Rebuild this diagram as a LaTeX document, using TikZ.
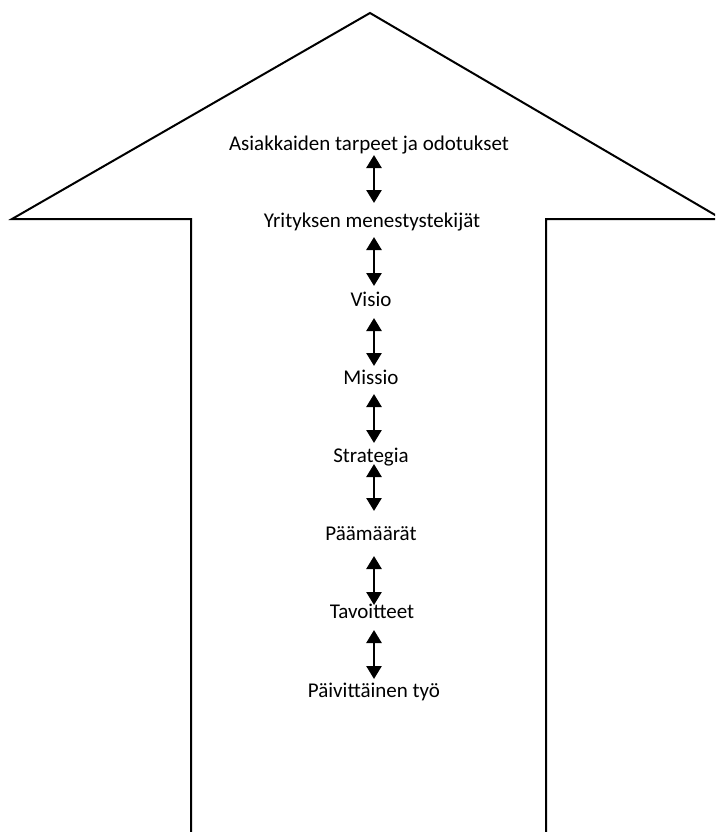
\documentclass[tikz,border=0pt]{standalone}
\usepackage{fontspec}
\setmainfont{Carlito}
\usetikzlibrary{arrows.meta}
\tikzset{
  outline/.style={draw=black, line width=2pt, line join=miter},
  lbl/.style={font=\fontsize{21}{25}\selectfont, inner sep=0pt, anchor=base},
  dbl/.style={line width=2.6pt, {Triangle[width=15pt,length=13pt]}-{Triangle[width=15pt,length=13pt]}}
}
\begin{document}
\begin{tikzpicture}[x=1pt,y=-1pt]
\useasboundingbox (0,0) rectangle (715,832);
\begin{scope}
\clip (0,0) rectangle (715,832);
\coordinate (lt) at (12,219);
\coordinate (ap) at (370,13);
\coordinate (rt) at (722,219);
\coordinate (ls) at (191,219);
\coordinate (rs) at (546,219);
\coordinate (lb) at (191,840);
\coordinate (rb) at (546,840);
\draw[outline] (lb) -- (ls) -- (lt) -- (ap) -- (rt) -- (rs) -- (rb);
\end{scope}
\node[lbl] (t1) at (369,150) {Asiakkaiden tarpeet ja odotukset};
\node[lbl] (t2) at (372,227) {Yrityksen menestystekijät};
\node[lbl] (t3) at (371,306) {Visio};
\node[lbl] (t4) at (371,384) {Missio};
\node[lbl] (t5) at (371,462) {Strategia};
\node[lbl] (t6) at (371,540) {Päämäärät};
\node[lbl] (t7) at (372,618) {Tavoitteet};
\node[lbl] (t8) at (374,697) {Päivittäinen työ};
\coordinate (a1) at (374,155); \coordinate (b1) at (374,203);
\coordinate (a2) at (374,237); \coordinate (b2) at (374,286);
\coordinate (a3) at (374,318); \coordinate (b3) at (374,366);
\coordinate (a4) at (374,394); \coordinate (b4) at (374,443);
\coordinate (a5) at (374,464); \coordinate (b5) at (374,511);
\coordinate (a6) at (374,556); \coordinate (b6) at (374,605);
\coordinate (a7) at (374,630); \coordinate (b7) at (374,679);
\foreach \i in {1,...,7} { \draw[dbl] (a\i) -- (b\i); }
\end{tikzpicture}
\end{document}
